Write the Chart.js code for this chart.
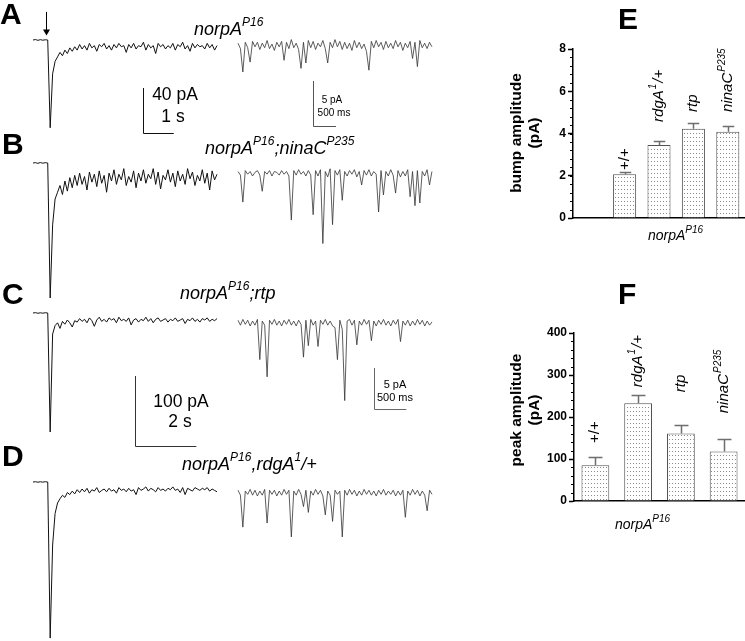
<!DOCTYPE html>
<html>
<head>
<meta charset="utf-8">
<script src="https://cdn.jsdelivr.net/npm/chart.js@4.4.1/dist/chart.umd.min.js"></script>
<style>
  html, body { margin: 0; padding: 0; background: #fff; }
  body { width: 745px; height: 641px; position: relative; overflow: hidden; font-family: 'Liberation Sans', Arial, sans-serif; }
  canvas { position: absolute; }
  .lbl { position: absolute; white-space: nowrap; color: #000; }
  .letter { font-size: 30px; font-weight: bold; line-height: 30px; }
  .ttl { font-size: 18px; font-style: italic; line-height: 18px; }
  .ttl sup { font-size: 12px; vertical-align: baseline; position: relative; top: -9px; line-height: 0; }
  .sc { font-size: 17.5px; line-height: 17.5px; transform: translateX(-50%); }
  .scs { font-size: 10px; line-height: 10px; transform: translateX(-50%); }
  .scs2 { font-size: 11px; line-height: 11px; transform: translateX(-50%); }
  .xt { font-size: 14px; font-style: italic; line-height: 14px; }
  .xt sup { font-size: 10px; vertical-align: baseline; position: relative; top: -7px; line-height: 0; }
  .yt { width: 170px; height: 36px; font-size: 15.5px; font-weight: bold; line-height: 18px; text-align: center; transform: rotate(-90deg); }
</style>
</head>
<body>
<canvas id="trA" width="540" height="140" style="left:0;top:0"></canvas>
<canvas id="trB" width="540" height="160" style="left:0;top:140px"></canvas>
<canvas id="trC" width="540" height="160" style="left:0;top:290px"></canvas>
<canvas id="trD" width="540" height="186" style="left:0;top:455px"></canvas>
<canvas id="barE" width="245" height="260" style="left:500px;top:0"></canvas>
<canvas id="barF" width="245" height="260" style="left:500px;top:290px"></canvas>

<div class="lbl letter" style="left:0;top:-1px">A</div>
<div class="lbl letter" style="left:2px;top:129px">B</div>
<div class="lbl letter" style="left:2px;top:279px">C</div>
<div class="lbl letter" style="left:2px;top:441px">D</div>
<div class="lbl letter" style="left:618px;top:4px">E</div>
<div class="lbl letter" style="left:618px;top:279px">F</div>

<div class="lbl ttl" style="left:194px;top:20px">norpA<sup>P16</sup></div>
<div class="lbl ttl" style="left:205px;top:139px">norpA<sup>P16</sup>;ninaC<sup>P235</sup></div>
<div class="lbl ttl" style="left:180px;top:284px">norpA<sup>P16</sup>;rtp</div>
<div class="lbl ttl" style="left:182px;top:455px">norpA<sup>P16</sup>,rdgA<sup>1</sup>/+</div>

<div class="lbl sc" style="left:175px;top:86px">40 pA</div>
<div class="lbl sc" style="left:173px;top:108px">1 s</div>
<div class="lbl scs" style="left:332px;top:95px">5 pA</div>
<div class="lbl scs" style="left:334px;top:108px">500 ms</div>
<div class="lbl sc" style="left:181px;top:393px">100 pA</div>
<div class="lbl sc" style="left:180px;top:413px">2 s</div>
<div class="lbl scs2" style="left:395px;top:379px">5 pA</div>
<div class="lbl scs2" style="left:395px;top:392px">500 ms</div>

<div class="lbl xt" style="left:648px;top:228px">norpA<sup>P16</sup></div>
<div class="lbl xt" style="left:615px;top:517px">norpA<sup>P16</sup></div>
<div class="lbl yt" style="left:440px;top:115px">bump amplitude<br>(pA)</div>
<div class="lbl yt" style="left:440px;top:392px">peak amplitude<br>(pA)</div>

<script>
// ---------------- Data ----------------
// light responses (pA), one sample every 0.08 s, light on at ~0.5 s
const MAIN_DT = 0.08;
const mainA = [0, 0.4, -0.3, 0.3, -0.2, 0.2, 0,
    -78, -30, -19, -15, -11, -14, -9, -12, -7, -10, -6, -9,
    -4, -8, -5, -9, -3, -7, -5, -10, -4, -6,
    -3, -8, -5, -9, -4, -7, -3, -6, -5, -11,
    -4, -7, -3, -8, -5, -6, -2, -9, -4, -7,
    -5, -12, -3, -6, -4, -8, -5, -7, -3, -9,
    -4, -6, -2, -8, -5, -10, -3, -7, -4, -6,
    -5, -8, -3, -7, -4, -9, -5];
const mainB = [0, 0.3, -0.3, 0.4, -0.2, 0.3, 0,
    -120, -55, -32, -26, -20, -28, -16, -25, -13, -22, -11, -20,
    -9, -19, -12, -24, -8, -17, -10, -21, -7, -18,
    -11, -26, -9, -16, -6, -19, -10, -15, -5, -20,
    -12, -17, -7, -22, -9, -16, -6, -18, -10, -14,
    -5, -19, -8, -23, -11, -15, -6, -17, -9, -21,
    -7, -16, -10, -19, -5, -14, -8, -20, -11, -16,
    -6, -18, -9, -24, -7, -15, -10];
const mainC = [0, 0.5, -0.4, 0.3, -0.3, 0.4, 0,
    -170, -30, -18, -14, -22, -12, -16, -10, -14, -20, -11, -13,
    -8, -12, -9, -14, -7, -11, -19, -10, -6, -12,
    -9, -13, -7, -10, -8, -14, -6, -11, -9, -12,
    -7, -17, -10, -8, -13, -9, -11, -6, -12, -8,
    -14, -9, -7, -12, -10, -8, -13, -9, -11, -7,
    -12, -10, -8, -15, -9, -11, -7, -12, -9, -13,
    -8, -10, -7, -12, -9, -11, -8];
const mainD = [0, 0.4, -0.3, 0.3, -0.2, 0.4, 0,
    -223, -90, -45, -30, -24, -19, -22, -15, -18, -13, -17, -11,
    -15, -10, -14, -9, -16, -11, -13, -8, -15, -12,
    -10, -14, -9, -13, -11, -16, -8, -12, -10, -14,
    -9, -13, -11, -18, -8, -12, -10, -7, -13, -9,
    -11, -14, -8, -12, -10, -13, -9, -11, -7, -12,
    -10, -15, -8, -18, -9, -11, -13, -8, -10, -12,
    -9, -11, -8, -13, -10, -12, -14];

// quantum bumps in the dark (pA), 81 samples each
const bumpA = [0.2, -0.4, -3.0, 0.3, -0.3, -1.9, 0.4, -0.2, 0.3, -0.5,
    0.2, -0.3, 0.5, -0.4, 0.1, -0.6, 0.3, -0.2, 0.4, -1.7,
    0.3, -0.4, 0.6, -0.3, 0.2, -0.5, -2.6, 0.3, -2.0, 0.5,
    -0.3, 0.4, -0.5, 0.2, -0.2, 0.5, -0.4, -2.0, 0.3, -0.3,
    0.6, -0.2, 0.4, -0.5, 0.3, -0.4, 0.2, -0.6, 0.5, -0.3,
    0.3, -0.4, 0.1, -0.7, -2.8, 0.4, -0.3, 0.5, -0.2, 0.3,
    -0.5, 0.4, -0.3, 0.2, -0.4, 0.5, -0.2, 0.3, -0.6, 0.2,
    -0.3, 0.4, -1.5, 0.3, -2.4, 0.5, -0.3, 0.2, -0.4, 0.3, -0.2];
const bumpB = [0.2, -0.2, -3.2, 0.3, -0.1, 0.2, -0.3, 0.1, 0.3, -0.2,
    -2.0, 0.2, -0.1, 0.3, -0.3, 0.2, 0.1, -0.2, 0.3, -0.1,
    0.2, -0.3, -5.2, 0.3, -0.2, 0.4, -0.1, 0.2, -0.3, 0.3,
    -0.2, -4.6, 0.3, -0.3, 0.4, -7.8, 0.2, -0.4, 0.5, -5.7,
    0.3, -0.2, 0.4, -3.0, 0.2, -0.3, 0.3, -0.1, 0.4, -0.4,
    0.2, -1.3, 0.3, -0.2, 0.4, -0.3, 0.2, -0.1, -4.3, 0.3,
    -2.4, 0.2, -0.3, 0.4, -0.2, -2.2, 0.3, -0.4, 0.2, -0.3,
    0.4, -2.6, 0.2, -3.6, 0.3, -3.3, 0.2, -0.3, 0.4, -1.3, 0.2];
const bumpC = [0.3, -0.3, 0.4, -0.2, 0.3, -0.4, 0.2, -0.3, 0.4, -4.5,
    0.2, -0.3, -6.6, 0.3, -0.2, 0.4, -0.3, 0.2, -0.4, 0.3,
    -0.2, 0.4, -0.3, 0.2, -0.4, 0.3, -0.2, -4.2, 0.3, -2.8,
    0.4, -0.3, 0.2, -2.9, 0.3, -0.2, 0.4, -0.3, 0.2, -0.4,
    -0.6, -4.5, 0.3, -0.8, -9.5, 0.2, 0.4, -0.3, 0.3, -2.7,
    0.2, -0.3, 0.4, -0.2, 0.3, -2.2, 0.2, -0.4, 0.3, -0.2,
    0.4, -0.3, 0.2, -0.4, 0.3, -0.2, 0.4, -2.3, 0.2, -0.3,
    0.3, -0.4, 0.2, -0.3, 0.4, -0.2, 0.3, -0.4, 0.2, -0.3, 0.1];
const bumpD = [0.3, -0.3, -4.2, 0.2, -0.2, 0.4, -0.3, 0.3, -0.4, 0.2,
    -0.3, 0.4, -3.7, 0.3, -0.2, 0.3, -0.4, 0.2, -0.3, 0.4,
    -0.2, 0.3, -5.4, 0.2, -0.3, 0.4, -0.2, -1.7, 0.3, -2.4,
    0.2, -0.3, 0.4, -0.2, 0.3, -0.4, -2.7, 0.2, -0.3, -3.5,
    0.3, -0.2, 0.2, -5.4, 0.3, -0.3, 0.4, -0.2, 0.3, -0.4,
    0.2, -0.3, 0.4, -0.2, 0.3, -0.3, 0.2, -0.4, 0.3, -0.2,
    0.4, -0.3, 0.2, -0.2, 0.3, -0.4, 0.2, -0.3, 0.3, -3.0,
    0.2, -0.3, 0.4, -0.2, 0.3, -0.4, 0.2, -0.3, -2.2, 0.3, -0.2];

// bar charts
const genotypes = ['+/+', 'rdgA1/+', 'rtp', 'ninaCP235'];
const bumpAmp = [2.07, 3.46, 4.22, 4.08];
const bumpErr = [0.10, 0.19, 0.27, 0.28];
const peakAmp = [85, 233, 161, 118];
const peakErr = [19, 20, 20, 29];
const bumpTicks = [0, 2, 4, 6, 8];
const peakTicks = [0, 100, 200, 300, 400];

// ---------------- Helpers ----------------
Chart.defaults.font.family = "'Liberation Sans', Arial, sans-serif";
Chart.defaults.color = '#000';

function series(values, dt) {
    return values.map(function(v, i) { return { x: i * dt, y: v }; });
}

// labels drawn rotated above the bars (italic name, superscript allele)
const labelParts = [
    [{ t: '+/+', it: false }],
    [{ t: 'rdgA', it: true }, { t: '1', sup: true }, { t: '/+', it: true }],
    [{ t: 'rtp', it: true }],
    [{ t: 'ninaC', it: true }, { t: 'P235', sup: true }]
];

// ---------------- Trace panels ----------------
const W = 540, MAIN_X0 = 33, MAIN_PXS = 30.67, BUMP_X0 = 238;

const scaleBars = {
    id: 'scaleBars',
    afterDatasetsDraw(chart, args, opts) {
        const ctx = chart.ctx;
        ctx.save();
        ctx.lineWidth = 1;
        (opts.bars || []).forEach(function(b) {
            const sx = chart.scales[b.x], sy = chart.scales[b.y];
            const x0 = Math.round(sx.getPixelForValue(b.at[0])) + 0.5;
            const x1 = sx.getPixelForValue(b.at[0] + b.size[0]);
            const yT = sy.getPixelForValue(b.at[1]);
            const yB = Math.round(sy.getPixelForValue(b.at[1] - b.size[1])) + 0.5;
            ctx.strokeStyle = b.color;
            ctx.beginPath();
            ctx.moveTo(x0, yT);
            ctx.lineTo(x0, yB);
            ctx.lineTo(x1, yB);
            ctx.stroke();
        });
        if (opts.arrow) {
            const a = opts.arrow;
            const x = Math.round(chart.scales.x.getPixelForValue(a.t)) + 0.5;
            const y1 = chart.scales.y.getPixelForValue(a.from);
            const y2 = chart.scales.y.getPixelForValue(a.to);
            ctx.strokeStyle = '#000';
            ctx.fillStyle = '#000';
            ctx.beginPath();
            ctx.moveTo(x, y1);
            ctx.lineTo(x, y2 - 4);
            ctx.stroke();
            ctx.beginPath();
            ctx.moveTo(x - 3.5, y2 - 6);
            ctx.lineTo(x + 3.5, y2 - 6);
            ctx.lineTo(x, y2);
            ctx.closePath();
            ctx.fill();
        }
        ctx.restore();
    }
};

const panels = [
    { id: 'trA', h: 140, main: mainA, bump: bumpA, bumpDt: 0.0527, bumpPxS: 46,
      mainBase: 40, mainK: 1.125, bumpBase: 45, bumpK: 9,
      bars: [{ x: 'x', y: 'y', at: [3.59, -42.7], size: [1, 40], color: '#111' },
             { x: 'x2', y: 'y2', at: [1.63, -4], size: [0.5, 5], color: '#555' }],
      arrow: { t: 0.42, from: 25, to: 4 } },
    { id: 'trB', h: 160, main: mainB, bump: bumpB, bumpDt: 0.0527, bumpPxS: 46,
      mainBase: 23, mainK: 1.125, bumpBase: 33.3, bumpK: 9, bars: [] },
    { id: 'trC', h: 160, main: mainC, bump: bumpC, bumpDt: 0.0375, bumpPxS: 64.67,
      mainBase: 23, mainK: 0.7, bumpBase: 32.7, bumpK: 8.2,
      bars: [{ x: 'x', y: 'y', at: [3.326, -90], size: [2, 100], color: '#333' },
             { x: 'x2', y: 'y2', at: [2.103, -5.52], size: [0.5, 5], color: '#666' }] },
    { id: 'trD', h: 186, main: mainD, bump: bumpD, bumpDt: 0.0375, bumpPxS: 64.67,
      mainBase: 27, mainK: 0.7, bumpBase: 37.7, bumpK: 8.2, bars: [] }
];

panels.forEach(function(p) {
    new Chart(document.getElementById(p.id), {
        type: 'line',
        data: {
            datasets: [{
                data: series(p.main, MAIN_DT),
                xAxisID: 'x', yAxisID: 'y',
                borderColor: '#111', borderWidth: 1, pointRadius: 0, tension: 0,
                borderJoinStyle: 'bevel'
            }, {
                data: series(p.bump, p.bumpDt),
                xAxisID: 'x2', yAxisID: 'y2',
                borderColor: '#333', borderWidth: 0.8, pointRadius: 0, tension: 0,
                borderJoinStyle: 'bevel'
            }]
        },
        options: {
            responsive: false,
            animation: false,
            layout: { padding: 0 },
            plugins: {
                legend: { display: false },
                tooltip: { enabled: false },
                scaleBars: { bars: p.bars, arrow: p.arrow }
            },
            scales: {
                x: { type: 'linear', display: false, min: -MAIN_X0 / MAIN_PXS, max: (W - MAIN_X0) / MAIN_PXS },
                y: { type: 'linear', display: false, min: (p.mainBase - p.h) / p.mainK, max: p.mainBase / p.mainK },
                x2: { type: 'linear', display: false, min: -BUMP_X0 / p.bumpPxS, max: (W - BUMP_X0) / p.bumpPxS },
                y2: { type: 'linear', display: false, min: (p.bumpBase - p.h) / p.bumpK, max: p.bumpBase / p.bumpK }
            }
        },
        plugins: [scaleBars]
    });
});

// ---------------- Bar charts ----------------
function dotPattern() {
    const c = document.createElement('canvas');
    c.width = 3; c.height = 4;
    const g = c.getContext('2d');
    g.fillStyle = '#fff';
    g.fillRect(0, 0, 3, 4);
    g.fillStyle = '#8a8a8a';
    g.fillRect(1, 1, 1, 1);
    return g.createPattern(c, 'repeat');
}

const barExtras = {
    id: 'barExtras',
    afterDatasetsDraw(chart, args, opts) {
        const ctx = chart.ctx, ys = chart.scales.y;
        const meta = chart.getDatasetMeta(0);
        const vals = chart.data.datasets[0].data;
        ctx.save();
        // minor ticks
        ctx.strokeStyle = '#000';
        ctx.lineWidth = 1;
        const n = Math.round((ys.max - ys.min) / opts.minor);
        for (let i = 0; i <= n; i++) {
            const py = Math.round(ys.getPixelForValue(ys.min + i * opts.minor)) + 0.5;
            ctx.beginPath();
            ctx.moveTo(ys.right - 3, py);
            ctx.lineTo(ys.right, py);
            ctx.stroke();
        }
        // error bars and rotated labels
        let k = 0;
        meta.data.forEach(function(el, i) {
            if (vals[i] === null) return;
            const top = el.y;
            const eTop = Math.round(ys.getPixelForValue(vals[i] + opts.err[k])) + 0.5;
            const cx = Math.round(el.x) + 0.5;
            const cap = el.width * 0.5;
            ctx.strokeStyle = '#6e6e6e';
            ctx.lineWidth = 1.5;
            ctx.beginPath();
            ctx.moveTo(cx, top);
            ctx.lineTo(cx, eTop);
            ctx.moveTo(cx - cap / 2, eTop);
            ctx.lineTo(cx + cap / 2, eTop);
            ctx.stroke();

            ctx.save();
            ctx.translate(el.x + 4, ys.getPixelForValue(opts.labelAt[k]));
            ctx.rotate(-Math.PI / 2);
            ctx.fillStyle = '#000';
            ctx.textBaseline = 'alphabetic';
            let tx = 0;
            labelParts[k].forEach(function(s) {
                if (s.sup) {
                    ctx.font = 'italic 10px "Liberation Sans", Arial, sans-serif';
                    ctx.fillText(s.t, tx + 1, -7);
                    tx += ctx.measureText(s.t).width + 2;
                } else {
                    ctx.font = (s.it ? 'italic ' : '') + '15px "Liberation Sans", Arial, sans-serif';
                    ctx.fillText(s.t, tx, 0);
                    tx += ctx.measureText(s.t).width;
                }
            });
            ctx.restore();
            k++;
        });
        ctx.restore();
    }
};

function barChart(id, cats, vals, err, ticks, opts) {
    return new Chart(document.getElementById(id), {
        type: 'bar',
        data: {
            labels: cats,
            datasets: [{
                data: vals,
                backgroundColor: dotPattern(),
                borderColor: '#505050',
                borderWidth: 1,
                borderSkipped: 'bottom',
                categoryPercentage: 1,
                barPercentage: opts.barPct
            }]
        },
        options: {
            responsive: false,
            animation: false,
            layout: { padding: { top: opts.padTop, right: 0, bottom: 0, left: 0 } },
            plugins: {
                legend: { display: false },
                tooltip: { enabled: false },
                barExtras: { err: err, minor: opts.minor, labelAt: opts.labelAt }
            },
            scales: {
                x: {
                    grid: { display: false },
                    border: { display: true, color: '#000', width: 1.5 },
                    ticks: { display: false },
                    afterFit: function(s) { s.height = opts.xH; }
                },
                y: {
                    min: ticks[0],
                    max: ticks[ticks.length - 1],
                    afterBuildTicks: function(s) { s.ticks = ticks.map(function(v) { return { value: v }; }); },
                    ticks: { font: { size: 12, weight: 'bold' }, color: '#000', padding: 2 },
                    grid: { drawOnChartArea: false, drawTicks: true, tickLength: 5, tickColor: '#000', tickWidth: 1.5 },
                    border: { display: true, color: '#000', width: 1.5 },
                    afterFit: function(s) { s.width = opts.yW; }
                }
            }
        },
        plugins: [barExtras]
    });
}

barChart('barE', [''].concat(genotypes), [null].concat(bumpAmp), bumpErr, bumpTicks,
    { barPct: 0.67, padTop: 49, xH: 42, yW: 73, minor: 0.4, labelAt: [2.27, 4.55, 5.02, 5.02] });
barChart('barF', genotypes, peakAmp, peakErr, peakTicks,
    { barPct: 0.65, padTop: 43, xH: 49, yW: 74, minor: 20, labelAt: [138, 271, 259, 209] });
</script>
</body>
</html>
